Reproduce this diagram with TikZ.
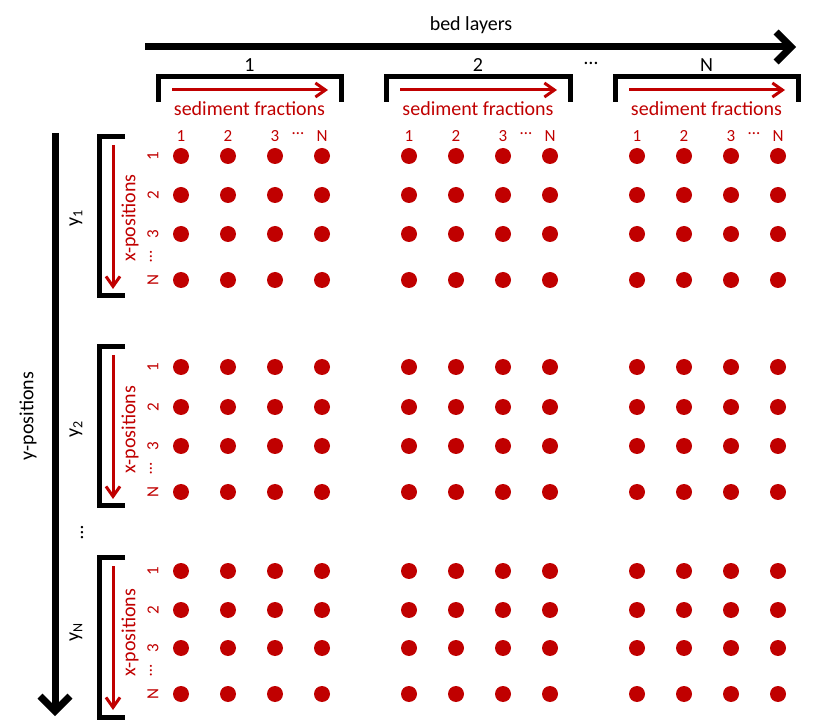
\documentclass[tikz,border=0pt]{standalone}
\usepackage{fontspec}
\setmainfont{Carlito}
\usetikzlibrary{arrows.meta}
\definecolor{dred}{HTML}{C00000}
\begin{document}
\begin{tikzpicture}[x=1pt,y=-1pt,
  lbl/.style={font=\fontsize{20}{22}\selectfont, inner sep=0pt},
  rlbl/.style={lbl, text=dred},
  small/.style={font=\fontsize{17}{19}\selectfont, text=dred, inner sep=0pt},
  dot/.style={circle, fill=dred, minimum size=16pt, inner sep=0pt},
  bigarrow/.style={line width=7pt, -{Straight Barb[length=15pt,width=30pt]}},
  bracketline/.style={line width=5pt},
  redarrow/.style={dred, line width=3pt, -{Straight Barb[length=10pt,width=14pt]}}
]
\useasboundingbox (0,0) rectangle (823,727);
% top arrow
\coordinate (ta1) at (145,47);
\coordinate (ta2) at (796,47);
\draw[bigarrow] (ta1) -- (ta2);
\node[lbl] (bedlayers) at (471,25) {bed layers};
% left arrow
\coordinate (la1) at (55,133);
\coordinate (la2) at (55,716);
\draw[bigarrow] (la1) -- (la2);
\node[lbl, rotate=90] (ypos) at (28,416) {y-positions};
% bed layer brackets
\foreach \g/\xl/\xr/\t in {1/158/341/1, 2/386/570/2, 3/615/798/N}{
  \coordinate (b\g a) at (\xl,102);
  \coordinate (b\g b) at (\xl,77);
  \coordinate (b\g c) at (\xr,77);
  \coordinate (b\g d) at (\xr,102);
  \draw[bracketline] (b\g a) -- (b\g b) -- (b\g c) -- (b\g d);
  \node[lbl] (bl\g) at ({(\xl+\xr)/2},65) {\t};
  \coordinate (ra\g) at (\xl+14,90);
  \coordinate (rb\g) at (\xr-13,90);
  \draw[redarrow] (ra\g) -- (rb\g);
  \node[rlbl] (sf\g) at ({(\xl+\xr)/2},109) {sediment fractions};
}
\node[lbl] (bldots) at (591,63) {\dots};
% column headers
\foreach \g/\x in {1/181, 2/409, 3/637}{
  \node[small] (h\g-1) at (\x,136) {1};
  \node[small] (h\g-2) at (\x+47,136) {2};
  \node[small] (h\g-3) at (\x+94,136) {3};
  \node[small] (h\g-d) at (\x+117,134) {\dots};
  \node[small] (h\g-N) at (\x+141,136) {N};
}
% y blocks
\foreach \b/\ya/\yb/\yc/\yd/\top/\bot/\sub in {1/156/195/234/280/137/296/1, 2/367/407/446/492/347/506/2, 3/571/610/648/694/558/717/N}{
  \coordinate (vb\b a) at (125,\top);
  \coordinate (vb\b b) at (99,\top);
  \coordinate (vb\b c) at (99,\bot);
  \coordinate (vb\b d) at (125,\bot);
  \draw[bracketline] (vb\b a) -- (vb\b b) -- (vb\b c) -- (vb\b d);
  \coordinate (vr\b a) at (113,\top+8);
  \coordinate (vr\b b) at (113,\bot-7);
  \draw[redarrow] (vr\b a) -- (vr\b b);
  \node[rlbl, rotate=90] (xp\b) at (130,{(\ya+\yd)/2}) {x-positions};
  \node[lbl, rotate=90] (yl\b) at (76,{(\ya+\yd)/2}) {y\textsubscript{\sub}};
  \node[small, rotate=90] (rl\b-1) at (153,\ya) {1};
  \node[small, rotate=90] (rl\b-2) at (153,\yb) {2};
  \node[small, rotate=90] (rl\b-3) at (153,\yc) {3};
  \node[small, rotate=90] (rl\b-d) at (151,{(\yc+\yd)/2}) {\dots};
  \node[small, rotate=90] (rl\b-N) at (153,\yd) {N};
  \foreach \g/\x in {1/181, 2/409, 3/637}{
    \foreach \c/\dx in {1/0, 2/47, 3/94, 4/141}{
      \foreach \r/\y in {1/\ya, 2/\yb, 3/\yc, 4/\yd}{
        \node[dot] (d\b-\g-\r-\c) at (\x+\dx,\y) {};
      }
    }
  }
}
\node[lbl, rotate=90] (ydots) at (82,533) {\dots};
\end{tikzpicture}
\end{document}
